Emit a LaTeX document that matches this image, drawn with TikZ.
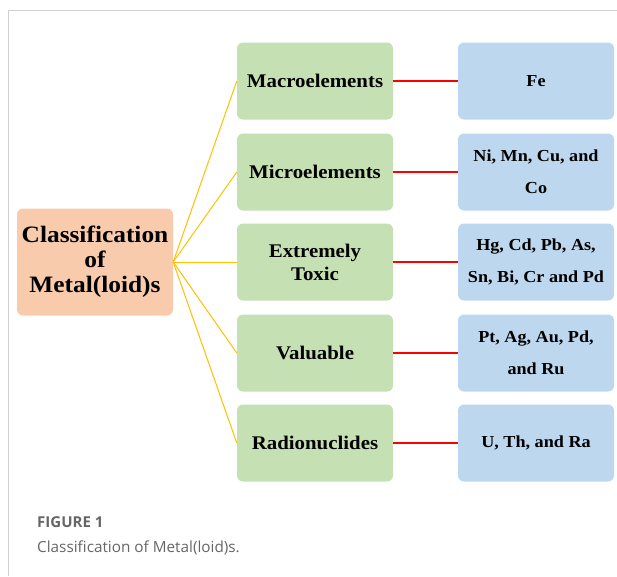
\documentclass[tikz,border=0pt]{standalone}
\usepackage{fontspec}
\setmainfont[FakeStretch=1.08]{Liberation Serif}
\newfontfamily\captionfont{Open Sans}
\definecolor{rootfill}{HTML}{F8CBAD}
\definecolor{groupfill}{HTML}{C5E0B3}
\definecolor{itemfill}{HTML}{BDD7EE}
\definecolor{branchline}{HTML}{FFC000}
\definecolor{linkline}{HTML}{FF0000}
\definecolor{framegray}{HTML}{D0D0D0}
\definecolor{captiongray}{HTML}{666666}
\begin{document}
\begin{tikzpicture}[x=1pt,y=-1pt,
  box/.style={rounded corners=6pt, inner sep=0pt, align=center, text=black,
    font=\bfseries},
  rootbox/.style={box, fill=rootfill, minimum width=156pt, minimum height=107pt,
    font=\bfseries\fontsize{23.5}{25}\selectfont},
  groupbox/.style={box, fill=groupfill, minimum width=156pt, minimum height=77pt,
    font=\bfseries\fontsize{19.3}{23}\selectfont},
  itembox/.style={box, fill=itemfill, minimum width=156pt, minimum height=77pt,
    font=\bfseries\fontsize{16.8}{32}\selectfont},
  branch/.style={draw=branchline, line width=1pt},
  link/.style={draw=linkline, line width=2pt}]
\useasboundingbox (0,0) rectangle (617,576);
% page frame
\draw[framegray, line width=1pt] (617,10) -- (8,10) -- (8,576);

% root
\node[rootbox] (root) at (95,262) {Classification\\of\\Metal(loid)s};

% groups
\node[groupbox] (g1) at (315,81) {Macroelements};
\node[groupbox] (g2) at (315,172) {Microelements};
\node[groupbox] (g3) at (315,262) {Extremely\\Toxic};
\node[groupbox] (g4) at (315,353) {Valuable};
\node[groupbox] (g5) at (315,443) {Radionuclides};

% members
\node[itembox] (m1) at (536,81) {Fe};
\node[itembox] (m2) at (536,172) {Ni, Mn, Cu, and\\Co};
\node[itembox] (m3) at (536,262) {Hg, Cd, Pb, As,\\Sn, Bi, Cr and Pd};
\node[itembox] (m4) at (536,353) {Pt, Ag, Au, Pd,\\and Ru};
\node[itembox] (m5) at (536,443) {U, Th, and Ra};

% connectors
\foreach \i in {1,...,5} {
  \draw[branch] (root.east) -- (g\i.west);
  \draw[link] (g\i.east) -- (m\i.west);
}

% caption
\node[anchor=base west, inner sep=0pt, text=captiongray,
  font=\captionfont\bfseries\fontsize{15}{17}\selectfont] (figlabel) at (37,527) {FIGURE 1};
\node[anchor=base west, inner sep=0pt, text=captiongray,
  font=\captionfont\fontsize{15.3}{18}\selectfont] (figtext) at (37,552) {Classification of Metal(loid)s.};
\end{tikzpicture}
\end{document}
